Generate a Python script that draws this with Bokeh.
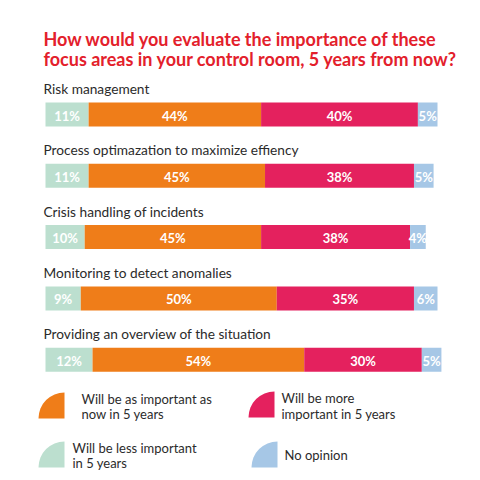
from bokeh.plotting import figure
from bokeh.models import Range1d, ColumnDataSource
from bokeh.embed import file_html
from bokeh.resources import INLINE
from bokeh.core.properties import value

# ---------------- data ----------------
title_lines = ["How would you evaluate the importance of these",
               "focus areas in your control room, 5 years from now?"]
categories = ["Risk management",
              "Process optimazation to maximize effiency",
              "Crisis handling of incidents",
              "Monitoring to detect anomalies",
              "Providing an overview of the situation"]
less_important = [11, 11, 10, 9, 12]
as_important = [44, 45, 45, 50, 54]
more_important = [40, 38, 38, 35, 30]
no_opinion = [5, 5, 4, 6, 5]
series_labels = [["Will be less important", "in 5 years"],
                 ["Will be as important as", "now in 5 years"],
                 ["Will be more", "important in 5 years"],
                 ["No opinion"]]

# ---------------- style / layout ----------------
W = H = 480
FONT = "Lato"
colors = ["#bcdfcf", "#ef7d19", "#e4215e", "#a6c7e6"]
title_color = "#e3202b"
text_color = "#2b2b2b"
X0 = 45.0          # pixel of 0 %
PX_PCT = 3.92      # pixels per percent
ROW0 = 114.0       # pixel of first bar center
PX_ROW = 61.3      # pixels per row
BAR_H = 24 / PX_ROW

p = figure(width=W, height=H, output_backend="svg", toolbar_location=None,
           x_range=Range1d(-X0 / PX_PCT, (W - X0) / PX_PCT),
           y_range=Range1d(-(H - ROW0) / PX_ROW, ROW0 / PX_ROW),
           min_border=0, outline_line_color=None, background_fill_color="white")
p.axis.visible = False
p.grid.visible = False
p.extra_x_ranges = {"px": Range1d(0, W)}
p.extra_y_ranges = {"px": Range1d(0, H)}

def py(v):
    return H - v

# ---------------- bars ----------------
series = [less_important, as_important, more_important, no_opinion]
rows = [-i for i in range(len(categories))]
left = [0.0] * len(categories)
for vals, col in zip(series, colors):
    right = [l + v for l, v in zip(left, vals)]
    src = ColumnDataSource(dict(y=rows, left=left, right=right,
                                mid=[(l + r) / 2 for l, r in zip(left, right)],
                                lab=[f"{v}%" for v in vals]))
    p.hbar(y="y", left="left", right="right", height=BAR_H, source=src,
           fill_color=col, line_color=None)
    p.text(x="mid", y="y", text="lab", source=src, text_align="center",
           text_baseline="middle", text_color="white", text_font=value(FONT),
           text_font_style="bold", text_font_size="13px", y_offset=1)
    left = right

# category labels
p.text(x=[0] * len(categories), y=rows, text=categories, text_align="left",
       text_baseline="middle", text_color=text_color, text_font=value(FONT),
       text_font_size="13.7px", x_offset=-2, y_offset=-26)

# ---------------- title ----------------
p.text(x=[43, 43], y=[py(38), py(58)], text=title_lines, text_align="left",
       text_baseline="middle", text_color=title_color, text_font=value(FONT),
       text_font_style="bold", text_font_size="18px",
       x_range_name="px", y_range_name="px")

# ---------------- legend ----------------
icon_centers = [(64, 467), (64, 418), (274, 417), (277, 467)]
text_pos = [(72, [447, 462]), (81, [398, 413]), (281, [397, 413]), (284, [454])]
for col, (cx, cy), (tx, tys), lines in zip(colors, icon_centers, text_pos, series_labels):
    p.wedge(x=[cx], y=[py(cy)], radius=26, radius_units="screen",
            start_angle=90, end_angle=180, start_angle_units="deg", end_angle_units="deg",
            fill_color=col, line_color=None, x_range_name="px", y_range_name="px")
    p.text(x=[tx] * len(lines), y=[py(t) for t in tys], text=lines,
           text_align="left", text_baseline="middle", text_color=text_color,
           text_font=value(FONT), text_font_size="13px",
           x_range_name="px", y_range_name="px")

open("out.html", "w").write(file_html(p, INLINE))
